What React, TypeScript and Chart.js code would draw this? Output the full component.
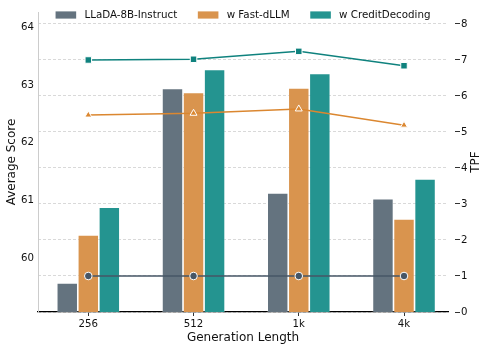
import React, { useEffect, useRef } from "react";
import { Chart, registerables } from "chart.js";

Chart.register(...registerables);

const categories = ["256", "512", "1k", "4k"];
const seriesNames = ["LLaDA-8B-Instruct", "w Fast-dLLM", "w CreditDecoding"];
const baseScore = [59.57, 62.94, 61.13, 61.03];
const fastScore = [60.4, 62.87, 62.95, 60.68];
const creditScore = [60.88, 63.27, 63.2, 61.37];
const baseTPF = [1, 1, 1, 1];
const fastTPF = [5.47, 5.52, 5.64, 5.19];
const creditTPF = [7.0, 7.02, 7.24, 6.84];
const scoreTicks = [60, 61, 62, 63, 64];
const tpfTicks = [0, 1, 2, 3, 4, 5, 6, 7, 8];

const FONT = "'DejaVu Sans', sans-serif";
const GRAY = "#64737f";
const ORANGE = "#d9944e";
const TEAL = "#249490";
const GRAY_LINE = "#465666";
const ORANGE_LINE = "#db8730";
const TEAL_LINE = "#0f827e";

const toXY = (arr: number[]) => arr.map((y, i) => ({ x: i, y }));

const overlayPlugin = {
  id: "overlay",
  afterDraw(chart: any) {
    const { ctx, chartArea } = chart;
    ctx.save();
    const fs = 10.3;
    ctx.font = `${fs}px ${FONT}`;
    const items = chart.data.datasets.filter((d: any) => d.type === "bar");
    const box = 2 * fs, boxH = 0.7 * fs, pad = 0.8 * fs, gap = 2 * fs;
    const widths = items.map((d: any) => ctx.measureText(d.label).width);
    const total =
      widths.reduce((a: number, w: number) => a + box + pad + w, 0) + gap * (items.length - 1);
    let x = (chartArea.left + chartArea.right) / 2 - total / 2;
    const y = chartArea.top + 3;
    items.forEach((d: any, i: number) => {
      ctx.fillStyle = d.backgroundColor;
      ctx.fillRect(x, y - boxH / 2, box, boxH);
      ctx.fillStyle = "#111";
      ctx.textBaseline = "middle";
      ctx.textAlign = "left";
      ctx.fillText(d.label, x + box + pad, y + 0.5);
      x += box + pad + widths[i] + gap;
    });
    // right axis title
    ctx.font = `12px ${FONT}`;
    ctx.translate(chart.width - 13, (chartArea.top + chartArea.bottom) / 2);
    ctx.rotate(-Math.PI / 2);
    ctx.textAlign = "center";
    ctx.textBaseline = "middle";
    ctx.fillStyle = "#111";
    ctx.fillText("TPF", 0, 0);
    ctx.restore();
  },
};

export default function App() {
  const ref = useRef<HTMLCanvasElement>(null);
  useEffect(() => {
    if (!ref.current) return;
    const tickFont = { family: FONT, size: 10.2 };
    const titleFont = { family: FONT, size: 12 };
    const barCommon = {
      type: "bar" as const,
      yAxisID: "y",
      borderColor: "rgba(255,255,255,0.35)",
      borderWidth: 0.8,
      borderSkipped: "start" as const,
      categoryPercentage: 0.6,
      barPercentage: 1,
      order: 2,
    };
    const lineCommon = {
      type: "line" as const,
      yAxisID: "y2",
      borderWidth: 1.5,
      tension: 0,
      pointBorderColor: "#ffffff",
      pointBorderWidth: 1,
      order: 0,
    };
    const chart = new Chart(ref.current, {
      type: "bar",
      data: {
        datasets: [
          {
            ...lineCommon,
            label: "LLaDA TPF",
            data: toXY(baseTPF),
            borderColor: GRAY_LINE,
            pointBackgroundColor: GRAY_LINE,
            pointStyle: "circle",
            pointRadius: 3.8,
          },
          {
            ...lineCommon,
            label: "Fast-dLLM TPF",
            data: toXY(fastTPF),
            borderColor: ORANGE_LINE,
            pointBackgroundColor: ORANGE_LINE,
            pointStyle: "triangle",
            pointRadius: 4,
          },
          {
            ...lineCommon,
            label: "CreditDecoding TPF",
            data: toXY(creditTPF),
            borderColor: TEAL_LINE,
            pointBackgroundColor: TEAL_LINE,
            pointStyle: "rect",
            pointRadius: 4.6,
          },
          { ...barCommon, label: seriesNames[0], data: toXY(baseScore), backgroundColor: GRAY },
          { ...barCommon, label: seriesNames[1], data: toXY(fastScore), backgroundColor: ORANGE },
          { ...barCommon, label: seriesNames[2], data: toXY(creditScore), backgroundColor: TEAL },
        ] as any,
      },
      options: {
        responsive: false,
        animation: false,
        devicePixelRatio: 1,
        layout: { padding: { top: 12, left: 0, right: 0, bottom: 0 } },
        plugins: {
          legend: { display: false },
          tooltip: { enabled: false },
        },
        scales: {
          x: {
            type: "linear",
            offset: false,
            min: -0.478,
            max: 3.418,
            afterBuildTicks: (s: any) => {
              s.ticks = categories.map((_, i) => ({ value: i }));
            },
            ticks: {
              font: tickFont,
              color: "#111",
              padding: 2,
              autoSkip: false,
              maxRotation: 0,
              callback: (v: any) => categories[v as number] ?? "",
            },
            grid: {
              display: true,
              offset: false,
              drawOnChartArea: false,
              drawTicks: true,
              tickLength: 4,
              tickColor: "#333",
              tickWidth: 1,
            },
            border: { display: true, color: "#000", width: 1.3 },
            title: {
              display: true,
              text: "Generation Length",
              font: titleFont,
              color: "#111",
              padding: { top: 0, bottom: 5 },
            },
            afterFit: (s: any) => {
              s.height = 38;
            },
          },
          y: {
            type: "linear",
            position: "left",
            min: 59.065,
            max: 64.265,
            afterBuildTicks: (s: any) => {
              s.ticks = scoreTicks.map((v) => ({ value: v }));
            },
            ticks: { font: tickFont, color: "#111", padding: 4 },
            grid: { display: false, drawTicks: false },
            border: { display: true, color: "#cccccc", width: 1 },
            title: {
              display: true,
              text: "Average Score",
              font: titleFont,
              color: "#111",
              padding: { top: 5, bottom: 0 },
            },
            afterFit: (s: any) => {
              s.width = 38;
            },
          },
          y2: {
            type: "linear",
            position: "right",
            min: 0,
            max: 8.333,
            afterBuildTicks: (s: any) => {
              s.ticks = tpfTicks.map((v) => ({ value: v }));
            },
            ticks: { font: tickFont, color: "#111", padding: 1 },
            grid: {
              display: true,
              drawOnChartArea: true,
              color: "#cfcfcf",
              lineWidth: 0.8,
              drawTicks: true,
              tickLength: 12,
              tickColor: "#333",
              tickWidth: 1,
              tickBorderDash: [0, 7, 5],
            },
            border: { display: false, dash: [3, 2] },
            afterFit: (s: any) => {
              s.width = 41;
            },
          },
        },
      } as any,
      plugins: [overlayPlugin],
    });
    return () => chart.destroy();
  }, []);
  return (
    <div style={{ position: "fixed", left: 0, top: 0, width: 489, height: 350 }}>
      <canvas ref={ref} width={489} height={350} />
    </div>
  );
}
